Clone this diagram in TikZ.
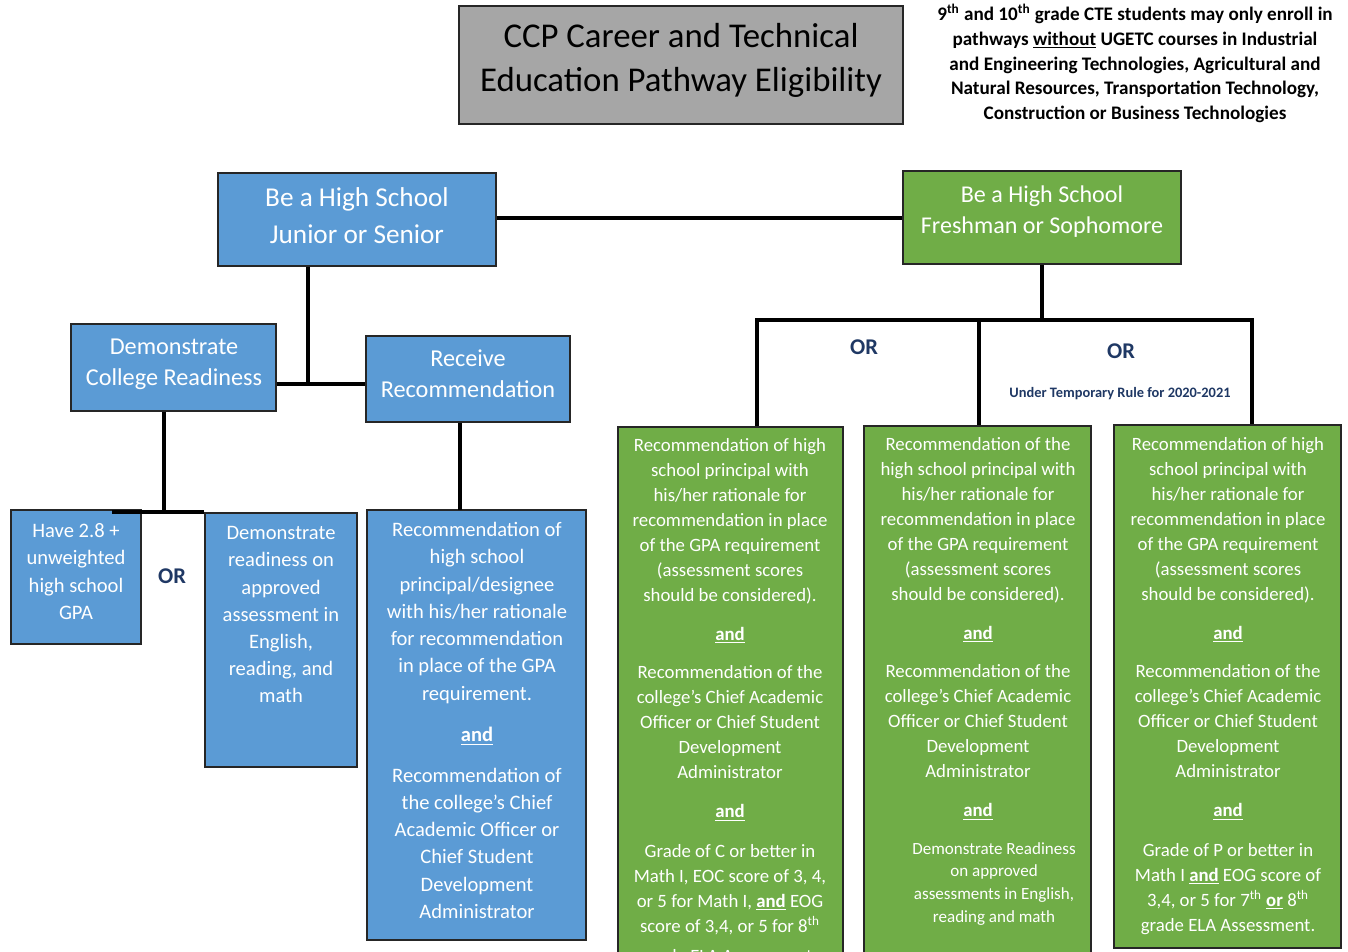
\documentclass[tikz,border=0pt]{standalone}
\usepackage{fontspec}
\setmainfont{Carlito}
\usetikzlibrary{fit}

\definecolor{boxgray}{HTML}{A6A6A6}
\definecolor{boxblue}{HTML}{5B9BD5}
\definecolor{boxgreen}{HTML}{70AD47}
\definecolor{ornavy}{HTML}{1F3864}

\tikzset{
    box/.style={draw=black!85, line width=0.8pt, inner sep=0pt},       % plain rectangle, text set separately
    graybox/.style={box, fill=boxgray},
    bluebox/.style={box, fill=boxblue},
    greenbox/.style={box, fill=boxgreen},
    boxtext/.style={anchor=north, align=center, inner sep=0pt, text=white}, % anchored at top of first line
    link/.style={line width=2.2pt, black, line join=miter},
    ortext/.style={anchor=base, inner sep=0pt, text=ornavy, font=\bfseries\fontsize{12.8}{15}\selectfont}
}

\newcommand{\und}{\textbf{\underline{and}}}

\begin{document}
\begin{tikzpicture}[x=0.02cm, y=-0.02cm]
    \useasboundingbox (0,0) rectangle (1348,951);
    \clip (0,0) rectangle (1348,951);

    % boxes
    \node[graybox, fit={(459,6) (903,124)}] (title) {};
    \node[bluebox, fit={(218,173) (496,266)}] (jr) {};
    \node[greenbox, fit={(903,171) (1181,264)}] (fr) {};
    \node[bluebox, fit={(71,324) (276,411)}] (dc) {};
    \node[bluebox, fit={(366,336) (570,422)}] (rr) {};
    \node[bluebox, fit={(11,510) (141,644)}] (gpa) {};
    \node[bluebox, fit={(205,513) (357,767)}] (dr) {};
    \node[bluebox, fit={(367,510) (586,940)}] (rb) {};
    \node[greenbox, fit={(618,427) (843,970)}] (g1) {};
    \node[greenbox, fit={(864,426) (1091,970)}] (g2) {};
    \node[greenbox, fit={(1114,425) (1341,948)}] (g3) {};

    % texts
    \node[boxtext, text=black, font=\fontsize{19.8}{25}\selectfont] (titletxt) at (681,23)
        {CCP Career and Technical\\Education Pathway Eligibility};
    \node[boxtext, font=\fontsize{15.5}{21}\selectfont] (jrtxt) at (357,187.4)
        {Be a High School\\Junior or Senior};
    \node[boxtext, font=\fontsize{13.7}{17.6}\selectfont] (frtxt) at (1042,185.5)
        {Be a High School\\Freshman or Sophomore};
    \node[boxtext, font=\fontsize{13.8}{17.6}\selectfont] (dctxt) at (174,338.5)
        {Demonstrate\\College Readiness};
    \node[boxtext, font=\fontsize{13.8}{17.6}\selectfont] (rrtxt) at (468,349.5)
        {Receive\\Recommendation};
    \node[boxtext, font=\fontsize{11.7}{15.6}\selectfont] (gpatxt) at (76,523)
        {Have 2.8 +\\unweighted\\high school\\GPA};
    \node[boxtext, font=\fontsize{11.7}{15.5}\selectfont] (drtxt) at (281,526)
        {Demonstrate\\readiness on\\approved\\assessment in\\English,\\reading, and\\math};
    \node[boxtext, font=\fontsize{11.7}{15.5}\selectfont] (rbtxt) at (477,522)
        {Recommendation of\\high school\\principal/designee\\with his/her rationale\\for recommendation\\in place of the GPA\\requirement.\\[8.3pt]
         \und\\[7.4pt]
         Recommendation of\\the college’s Chief\\Academic Officer or\\Chief Student\\Development\\Administrator};

    \node[boxtext, font=\fontsize{10.7}{14.2}\selectfont] (g1txt) at (730,438.2)
        {Recommendation of high\\school principal with\\his/her rationale for\\recommendation in place\\of the GPA requirement\\(assessment scores\\should be considered).\\[7.9pt]
         \und\\[7.9pt]
         Recommendation of the\\college’s Chief Academic\\Officer or Chief Student\\Development\\Administrator\\[7.9pt]
         \und\\[8.4pt]
         Grade of C or better in\\Math I, EOC score of 3, 4,\\or 5 for Math I, \und{} EOG\\score of 3,4, or 5 for 8\textsuperscript{th}\\[3pt]grade ELA Assessment.};
    \node[boxtext, font=\fontsize{10.7}{14.2}\selectfont] (g2txt) at (978,437.2)
        {Recommendation of the\\high school principal with\\his/her rationale for\\recommendation in place\\of the GPA requirement\\(assessment scores\\should be considered).\\[7.9pt]
         \und\\[7.9pt]
         Recommendation of the\\college’s Chief Academic\\Officer or Chief Student\\Development\\Administrator\\[7.9pt]
         \und};
    \node[boxtext, font=\fontsize{9.7}{13}\selectfont] (g2low) at (994,841.8)
        {Demonstrate Readiness\\on approved\\assessments in English,\\reading and math};
    \node[boxtext, font=\fontsize{10.7}{14.2}\selectfont] (g3txt) at (1228,437.2)
        {Recommendation of high\\school principal with\\his/her rationale for\\recommendation in place\\of the GPA requirement\\(assessment scores\\should be considered).\\[7.9pt]
         \und\\[7.9pt]
         Recommendation of the\\college’s Chief Academic\\Officer or Chief Student\\Development\\Administrator\\[7.9pt]
         \und\\[8.4pt]
         Grade of P or better in\\Math I \und{} EOG score of\\3,4, or 5 for 7\textsuperscript{th} \textbf{\underline{or}} 8\textsuperscript{th}\\grade ELA Assessment.};

    % note at the top right
    \node[boxtext, text=black, font=\bfseries\fontsize{10.9}{14.2}\selectfont] (note) at (1135,3.4)
        {9\textsuperscript{th} and 10\textsuperscript{th} grade CTE students may only enroll in\\pathways \underline{without} UGETC courses in Industrial\\and Engineering Technologies, Agricultural and\\Natural Resources, Transportation Technology,\\Construction or Business Technologies};

    % OR labels
    \node[ortext] (orgpa) at (172,583) {OR};
    \node[ortext] (orleft) at (864,354) {OR};
    \node[ortext] (orright) at (1121,358) {OR};
    \node[anchor=base, inner sep=0pt, text=ornavy, font=\bfseries\fontsize{8.2}{10}\selectfont] (temp) at (1120,397)
        {Under Temporary Rule for 2020-2021};

    % join points
    \coordinate (topj) at (679,218);
    \coordinate (jrj) at (308,384);
    \coordinate (dcj) at (164,512);
    \coordinate (gpaj) at (112,512);
    \coordinate (rrj) at (460,510);
    \coordinate (frj) at (1042,320);
    \coordinate (br1) at (757,320);
    \coordinate (br2) at (979,320);
    \coordinate (br3) at (1252,320);

    % connectors
    \draw[link] (topj -| title.south) -- (topj);
    \draw[link] (jr.east |- topj) -- (fr.west |- topj);
    \draw[link] (jrj |- jr.south) -- (jrj);
    \draw[link] (dc.east |- jrj) -- (rr.west |- jrj);
    \draw[link] (dcj |- dc.south) -- (dcj);
    \draw[link] (gpaj) -- (gpaj -| dr.west);
    \draw[link] (rrj |- rr.south) -- (rrj);
    \draw[link] (fr.south) -- (frj);
    \draw[link] (br1 |- g1.north) -- (br1) -- (br3) -- (br3 |- g3.north);
    \draw[link] (br2) -- (br2 |- g2.north);
\end{tikzpicture}
\end{document}
